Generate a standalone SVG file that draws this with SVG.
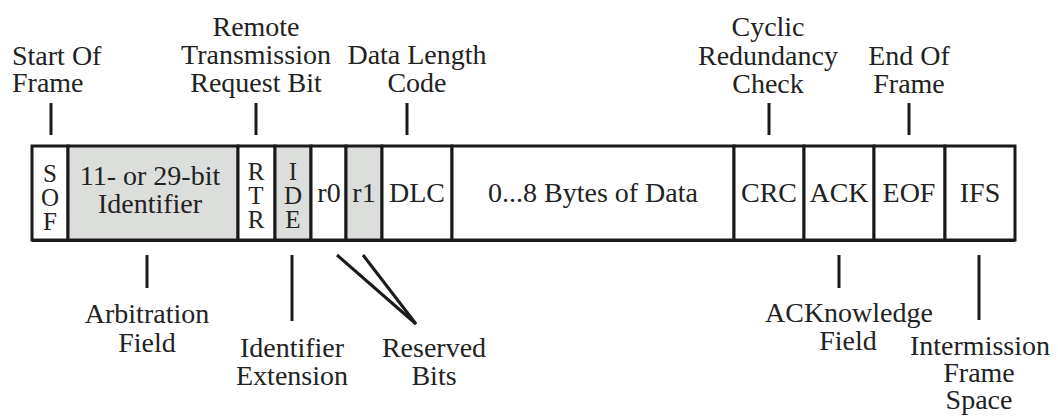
<svg xmlns="http://www.w3.org/2000/svg" width="1058" height="417" viewBox="0 0 1058 417">
<style>
.cell{stroke:#1a1a1a;stroke-width:3;fill:#fff;}
.sh{fill:#dcdedb;}
.tick{stroke:#1a1a1a;stroke-width:3;fill:none;}
text{fill:#222;text-anchor:middle;}
</style>
<rect x="0" y="0" width="1058" height="417" fill="#fff"/>
<g id="frame">
<g id="sof"><rect class="cell" x="32" y="146" width="36" height="94"/>
<text font-family="Liberation Serif" font-size="25" x="50" y="182">S</text>
<text font-family="Liberation Serif" font-size="25" x="50" y="206">O</text>
<text font-family="Liberation Serif" font-size="25" x="50" y="230">F</text></g>
<g id="identifier"><rect class="cell sh" x="68" y="146" width="170" height="94"/>
<text font-family="Liberation Serif" font-size="28" x="150" y="185">11- or 29-bit</text>
<text font-family="Liberation Serif" font-size="28" x="150" y="213">Identifier</text></g>
<g id="rtr"><rect class="cell" x="238" y="146" width="37" height="94"/>
<text font-family="Liberation Serif" font-size="25" x="256" y="180">R</text>
<text font-family="Liberation Serif" font-size="25" x="256" y="204">T</text>
<text font-family="Liberation Serif" font-size="25" x="256" y="228">R</text></g>
<g id="ide"><rect class="cell sh" x="275" y="146" width="36" height="94"/>
<text font-family="Liberation Serif" font-size="25" x="293" y="180">I</text>
<text font-family="Liberation Serif" font-size="25" x="293" y="204">D</text>
<text font-family="Liberation Serif" font-size="25" x="293" y="228">E</text></g>
<g id="r0"><rect class="cell" x="311" y="146" width="35" height="94"/>
<text font-family="Liberation Serif" font-size="28" x="329" y="202">r0</text></g>
<g id="r1"><rect class="cell sh" x="346" y="146" width="36" height="94"/>
<text font-family="Liberation Serif" font-size="28" x="364" y="202">r1</text></g>
<g id="dlc"><rect class="cell" x="382" y="146" width="70" height="94"/>
<text font-family="Liberation Serif" font-size="28" x="417" y="202">DLC</text></g>
<g id="data"><rect class="cell" x="452" y="146" width="282" height="94"/>
<text font-family="Liberation Serif" font-size="28" x="593" y="202">0...8 Bytes of Data</text></g>
<g id="crc"><rect class="cell" x="734" y="146" width="70" height="94"/>
<text font-family="Liberation Serif" font-size="28" x="769" y="202">CRC</text></g>
<g id="ack"><rect class="cell" x="804" y="146" width="70" height="94"/>
<text font-family="Liberation Serif" font-size="28" x="839" y="202">ACK</text></g>
<g id="eof"><rect class="cell" x="874" y="146" width="71" height="94"/>
<text font-family="Liberation Serif" font-size="28" x="909" y="202">EOF</text></g>
<g id="ifs"><rect class="cell" x="945" y="146" width="70" height="94"/>
<text font-family="Liberation Serif" font-size="28" x="980" y="202">IFS</text></g>
<line x1="32" y1="241" x2="1015" y2="241" stroke="#1a1a1a" stroke-width="2"/>
</g>
<g id="connectors">
<line class="tick" x1="51" y1="103" x2="51" y2="135"/>
<line class="tick" x1="256" y1="103" x2="256" y2="135"/>
<line class="tick" x1="407" y1="103" x2="407" y2="135"/>
<line class="tick" x1="769" y1="103" x2="769" y2="135"/>
<line class="tick" x1="909" y1="103" x2="909" y2="135"/>
<line class="tick" x1="147" y1="255" x2="147" y2="288"/>
<line class="tick" x1="292" y1="255" x2="292" y2="321"/>
<line class="tick" x1="337" y1="255" x2="416" y2="324"/>
<line class="tick" x1="363" y1="255" x2="416" y2="324"/>
<line class="tick" x1="839" y1="255" x2="839" y2="288"/>
<line class="tick" x1="979" y1="255" x2="979" y2="320"/>
</g>
<g id="label-sof">
<text font-family="Liberation Serif" font-size="28" x="12" y="65" text-anchor="start" style="text-anchor:start">Start Of</text>
<text font-family="Liberation Serif" font-size="28" x="12" y="92" text-anchor="start" style="text-anchor:start">Frame</text></g>
<g id="label-rtr">
<text font-family="Liberation Serif" font-size="28" x="256" y="36">Remote</text>
<text font-family="Liberation Serif" font-size="28" x="256" y="64">Transmission</text>
<text font-family="Liberation Serif" font-size="28" x="256" y="92">Request Bit</text></g>
<g id="label-dlc">
<text font-family="Liberation Serif" font-size="28" x="417" y="64">Data Length</text>
<text font-family="Liberation Serif" font-size="28" x="417" y="92">Code</text></g>
<g id="label-crc">
<text font-family="Liberation Serif" font-size="28" x="768" y="36">Cyclic</text>
<text font-family="Liberation Serif" font-size="28" x="768" y="65">Redundancy</text>
<text font-family="Liberation Serif" font-size="28" x="768" y="93">Check</text></g>
<g id="label-eof">
<text font-family="Liberation Serif" font-size="28" x="909" y="65">End Of</text>
<text font-family="Liberation Serif" font-size="28" x="909" y="93">Frame</text></g>
<g id="label-arb">
<text font-family="Liberation Serif" font-size="28" x="147" y="323">Arbitration</text>
<text font-family="Liberation Serif" font-size="28" x="147" y="352">Field</text></g>
<g id="label-ide">
<text font-family="Liberation Serif" font-size="28" x="292" y="357">Identifier</text>
<text font-family="Liberation Serif" font-size="28" x="292" y="385">Extension</text></g>
<g id="label-res">
<text font-family="Liberation Serif" font-size="28" x="434" y="357">Reserved</text>
<text font-family="Liberation Serif" font-size="28" x="434" y="385">Bits</text></g>
<g id="label-ack">
<text font-family="Liberation Serif" font-size="28" x="849" y="322">ACKnowledge</text>
<text font-family="Liberation Serif" font-size="28" x="848" y="350">Field</text></g>
<g id="label-ifs">
<text font-family="Liberation Serif" font-size="28" x="980" y="355">Intermission</text>
<text font-family="Liberation Serif" font-size="28" x="979" y="382">Frame</text>
<text font-family="Liberation Serif" font-size="28" x="979" y="409">Space</text></g>
</svg>
